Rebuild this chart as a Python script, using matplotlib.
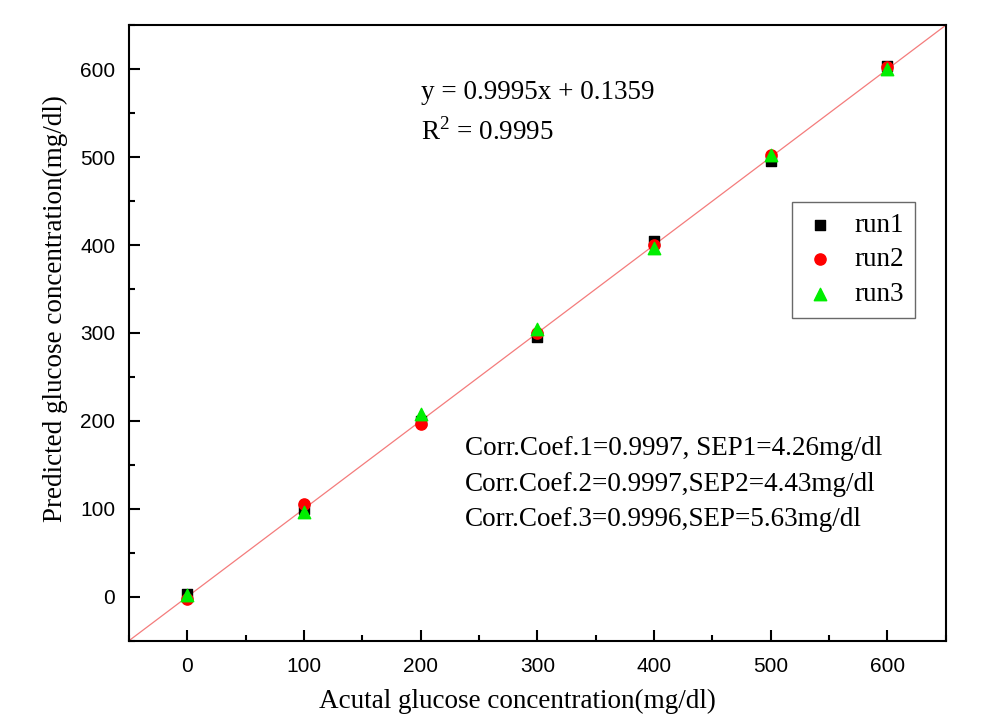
import matplotlib
matplotlib.use("Agg")
import matplotlib.pyplot as plt
import numpy as np
from matplotlib.ticker import MultipleLocator

plt.rcParams['font.family'] = ['Liberation Serif', 'DejaVu Serif']
plt.rcParams['mathtext.fontset'] = 'custom'
plt.rcParams['mathtext.rm'] = 'Liberation Serif'

actual = [0, 100, 200, 300, 400, 500, 600]
run1 = [3, 100, 200, 296, 405, 496, 604]
run2 = [-3, 106, 197, 300, 400, 502, 602]
run3 = [2, 96, 208, 305, 397, 502, 600]
slope = 0.9995
intercept = 0.1359

fig = plt.figure(figsize=(9.85, 7.2), dpi=100)
ax = fig.add_axes([0.131, 0.110, 0.829, 0.855])

xl = np.array([-50, 650])
ax.plot(xl, slope * xl + intercept, color='#f47c7c', lw=0.9, zorder=1)
ax.scatter(actual, run1, marker='s', s=55, color='black', label='run1', zorder=3)
ax.scatter(actual, run2, marker='o', s=65, color='red', label='run2', zorder=4)
ax.scatter(actual, run3, marker='^', s=80, color='#00ee00', label='run3', zorder=5)

ax.set_xlim(-50, 650)
ax.set_ylim(-50, 650)
ax.xaxis.set_major_locator(MultipleLocator(100))
ax.yaxis.set_major_locator(MultipleLocator(100))
ax.xaxis.set_minor_locator(MultipleLocator(50))
ax.yaxis.set_minor_locator(MultipleLocator(50))
ax.tick_params(which='both', direction='in', top=False, right=False, width=1.5)
ax.tick_params(which='major', length=8)
ax.tick_params(which='minor', length=4)
ax.tick_params(axis='y', pad=10)
ax.tick_params(axis='x', pad=12)
for lab in ax.get_xticklabels() + ax.get_yticklabels():
    lab.set_fontfamily('Liberation Sans')
    lab.set_fontsize(15)
for sp in ax.spines.values():
    sp.set_linewidth(1.5)

ax.set_xlabel('Acutal glucose concentration(mg/dl)', fontsize=19.5)
ax.set_ylabel('Predicted glucose concentration(mg/dl)', fontsize=19.5)
ax.xaxis.set_label_coords(0.476, -0.078)
ax.yaxis.set_label_coords(-0.075, 0.54)

ax.text(0.358, 0.891, 'y = 0.9995x + 0.1359', transform=ax.transAxes, fontsize=19.5, va='center')
ax.text(0.358, 0.8265, r'R$^2$ = 0.9995', transform=ax.transAxes, fontsize=19.5, va='center')
ax.text(0.411, 0.332,
        'Corr.Coef.1=0.9997, SEP1=4.26mg/dl\nCorr.Coef.2=0.9997,SEP2=4.43mg/dl\nCorr.Coef.3=0.9996,SEP=5.63mg/dl',
        transform=ax.transAxes, fontsize=19.5, linespacing=1.55, va='top')

leg = ax.legend(loc='upper right', bbox_to_anchor=(0.962, 0.7127), fontsize=19.5,
                frameon=True, fancybox=False, edgecolor='#444444', handletextpad=0.6,
                handlelength=1.3, borderpad=0.4, labelspacing=0.35, borderaxespad=0)
leg.get_frame().set_linewidth(1.0)

fig.savefig('out.png', dpi=100)
